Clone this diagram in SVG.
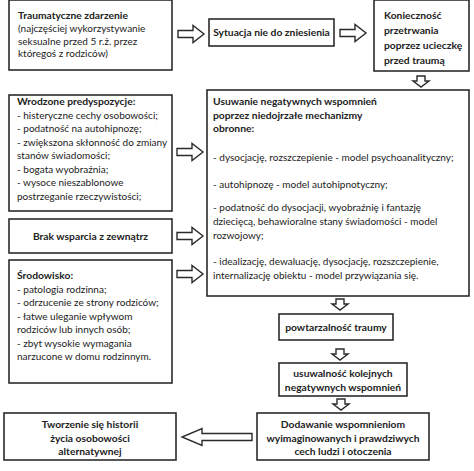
<svg xmlns="http://www.w3.org/2000/svg" xmlns:xlink="http://www.w3.org/1999/xlink" width="474" height="471" viewBox="0 0 474 471">
<defs>
<style>
.box{fill:#fff;stroke:#2b2b2b;stroke-width:1.6}
.arr{fill:#fff;stroke:#2b2b2b;stroke-width:1.4;stroke-linejoin:miter}
text{font-family:Lato,"Liberation Sans",sans-serif;font-size:10px;fill:#222}
.b{font-weight:bold;font-size:10.3px}
.m{text-anchor:middle}
</style>
<path id="ra" d="M0,-3.5 H15 V-8.5 L26,0 L15,8.5 V3.5 H0 Z"/>
<path id="da" d="M-4,0 V5 H-8 L0,11 L8,5 H4 V0 Z"/>
</defs>
<rect width="474" height="471" fill="#fff"/>
<g id="connectors">
<use xlink:href="#ra" class="arr" x="178" y="34"/>
<use xlink:href="#ra" class="arr" x="340" y="33"/>
<use xlink:href="#da" class="arr" x="421" y="76"/>
<use xlink:href="#ra" class="arr" x="177" y="152"/>
<use xlink:href="#ra" class="arr" x="177" y="236"/>
<use xlink:href="#ra" class="arr" x="177" y="274"/>
<use xlink:href="#da" class="arr" x="340" y="299"/>
<use xlink:href="#da" class="arr" x="340" y="349"/>
<use xlink:href="#da" class="arr" x="341" y="399"/>
<path class="arr" d="M252,433.5 H202 V428.5 L182,437 L202,445.5 V440.5 H252 Z"/>
</g>
<g id="n1">
<rect class="box" x="9" y="0" width="163" height="70"/>
<text x="18" y="19" class="b">Traumatyczne zdarzenie</text>
<text x="18" y="32">(najczęściej wykorzystywanie</text>
<text x="18" y="44.5">seksualne przed 5 r.ż. przez</text>
<text x="18" y="57">któregoś z rodziców)</text>
</g>
<g id="n2">
<rect class="box" x="209" y="19" width="125" height="27"/>
<text x="271.5" y="36" class="b m">Sytuacja nie do zniesienia</text>
</g>
<g id="n3">
<rect class="box" x="374" y="0" width="95" height="71"/>
<text x="384" y="19" class="b">Konieczność</text>
<text x="384" y="34" class="b">przetrwania</text>
<text x="384" y="49" class="b">poprzez ucieczkę</text>
<text x="384" y="64" class="b">przed traumą</text>
</g>
<g id="n4">
<rect class="box" x="9" y="95" width="163" height="116"/>
<text x="17" y="105" class="b">Wrodzone predyspozycje:</text>
<text x="17" y="118.5">- histeryczne cechy osobowości;</text>
<text x="17" y="132">- podatność na autohipnozę;</text>
<text x="17" y="145.5">- zwiększona skłonność do zmiany</text>
<text x="17" y="159">stanów świadomości;</text>
<text x="17" y="172.5">- bogata wyobraźnia;</text>
<text x="17" y="186">- wysoce nieszablonowe</text>
<text x="17" y="199.5">postrzeganie rzeczywistości;</text>
</g>
<g id="n5">
<rect class="box" x="207" y="90" width="262" height="206"/>
<text x="213" y="105" class="b">Usuwanie negatywnych wspomnień</text>
<text x="213" y="118.5" class="b">poprzez niedojrzałe mechanizmy</text>
<text x="213" y="132" class="b">obronne:</text>
<text x="213" y="161">- dysocjację, rozszczepienie - model psychoanalityczny;</text>
<text x="213" y="188">- autohipnozę - model autohipnotyczny;</text>
<text x="213" y="211">- podatność do dysocjacji, wyobraźnię i fantazję</text>
<text x="213" y="225">dziecięcą, behawioralne stany świadomości - model</text>
<text x="213" y="239">rozwojowy;</text>
<text x="213" y="265">- idealizację, dewaluację, dysocjację, rozszczepienie,</text>
<text x="213" y="279">internalizację obiektu - model przywiązania się.</text>
</g>
<g id="n6">
<rect class="box" x="9" y="219" width="163" height="34"/>
<text x="90.5" y="240" class="b m">Brak wsparcia z zewnątrz</text>
</g>
<g id="n7">
<rect class="box" x="9" y="260" width="163" height="123"/>
<text x="17" y="279" class="b">Środowisko:</text>
<text x="17" y="292.5">- patologia rodzinna;</text>
<text x="17" y="306">- odrzucenie ze strony rodziców;</text>
<text x="17" y="319.5">- łatwe uleganie wpływom</text>
<text x="17" y="333">rodziców lub innych osób;</text>
<text x="17" y="346.5">- zbyt wysokie wymagania</text>
<text x="17" y="360">narzucone w domu rodzinnym.</text>
</g>
<g id="n8">
<rect class="box" x="279" y="314" width="114" height="26"/>
<text x="336" y="330.5" class="b m">powtarzalność traumy</text>
</g>
<g id="n9">
<rect class="box" x="279" y="363" width="128" height="33"/>
<text x="343" y="377" class="b m">usuwalność kolejnych</text>
<text x="343" y="391" class="b m">negatywnych wspomnień</text>
</g>
<g id="n10">
<rect class="box" x="257" y="413" width="172" height="47"/>
<text x="343" y="428" class="b m">Dodawanie wspomnieniom</text>
<text x="343" y="441.5" class="b m">wyimaginowanych i prawdziwych</text>
<text x="343" y="455" class="b m">cech ludzi i otoczenia</text>
</g>
<g id="n11">
<rect class="box" x="4" y="413" width="172" height="47"/>
<text x="90" y="428" class="b m">Tworzenie się historii</text>
<text x="90" y="441.5" class="b m">życia osobowości</text>
<text x="90" y="455" class="b m">alternatywnej</text>
</g>
</svg>
